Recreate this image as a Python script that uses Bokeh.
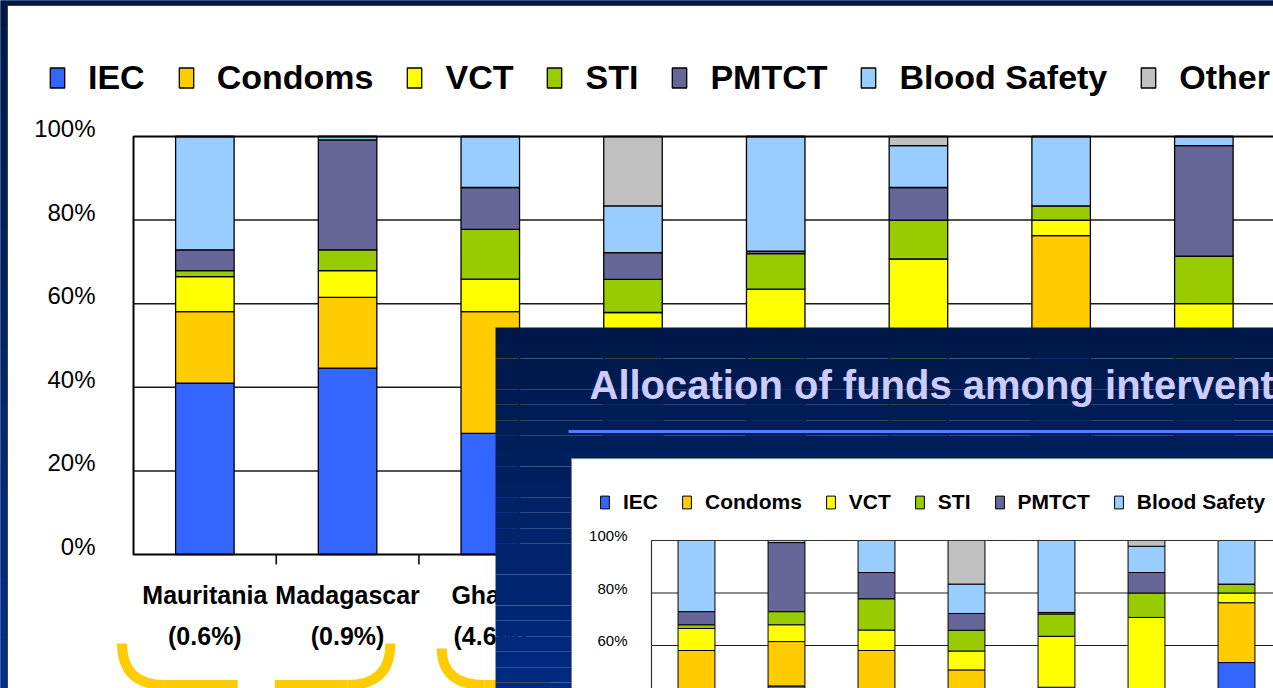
import numpy as np
from bokeh.plotting import figure
from bokeh.models import Range1d, Legend, LegendItem, ColumnDataSource
from bokeh.core.properties import value
from bokeh.embed import file_html
from bokeh.resources import INLINE

# ---------------- data ----------------
series = ["IEC", "Condoms", "VCT", "STI", "PMTCT", "Blood Safety", "Other"]
colors = ["#3366FF", "#FFCC00", "#FFFF00", "#99CC00", "#666699", "#99CCFF", "#C0C0C0"]
iec = [41.0, 44.6, 29.0, 40.0, 40.1, 25.0, 53.5, 40.0]
condoms = [17.1, 16.9, 29.1, 10.7, 4.0, 10.0, 22.8, 12.0]
vct = [8.4, 6.4, 7.8, 7.2, 19.4, 35.7, 3.7, 8.0]
sti = [1.4, 5.0, 11.9, 7.9, 8.5, 9.3, 3.4, 11.4]
pmtct = [5.0, 26.3, 10.0, 6.4, 0.6, 7.8, 0.0, 26.4]
blood = [27.1, 0.8, 12.2, 11.2, 27.4, 10.0, 16.6, 2.2]
other = [0.0, 0.0, 0.0, 16.6, 0.0, 2.2, 0.0, 0.0]
countries = ["Mauritania", "Madagascar", "Ghana"]
prevalence = ["(0.6%)", "(0.9%)", "(4.6%)"]
y_ticks = [0, 0.2, 0.4, 0.6, 0.8, 1.0]
inset_title = "Allocation of funds among interventions"

FONT = value("Liberation Sans")
keys = ["iec", "condoms", "vct", "sti", "pmtct", "blood", "other"]
vals = [iec, condoms, vct, sti, pmtct, blood, other]
ncat = len(iec)
xs = [i + 0.5 for i in range(ncat)]
data = {"x": xs}
for k, v in zip(keys, vals):
    data[k] = [a / 100.0 for a in v]
src = ColumnDataSource(data)
tick_text = ["%d%%" % round(t * 100) for t in y_ticks]


def gradient(c0, c1, n):
    c0 = np.array(c0)
    c1 = np.array(c1)
    out = []
    for i in range(n):
        t = (i + 0.5) / n
        c = (c0 + (c1 - c0) * t).astype(int)
        out.append("#%02x%02x%02x" % tuple(c))
    return out


# ---------------- figure (frame = whole canvas) ----------------
p = figure(width=1273, height=688, output_backend="svg", toolbar_location=None,
           x_range=Range1d(-0.9320, 7.988), y_range=Range1d(-0.3206, 1.3254),
           x_axis_location=None, y_axis_location=None, min_border=0,
           background_fill_color="#001f5c", border_fill_color="#001f5c",
           outline_line_color=None)
p.extra_x_ranges = {"inset": Range1d(-7.2333, 6.9111)}
p.extra_y_ranges = {"inset": Range1d(0.4362, 3.0571)}
p.xgrid.visible = False
p.ygrid.visible = False

# slide background (navy gradient) and white chart panel
nb = 24
bg_edges = np.linspace(1.33, -0.33, nb + 1)
p.quad(left=-0.94, right=8.2, top=bg_edges[:-1], bottom=bg_edges[1:],
       fill_color=gradient([0x00, 0x18, 0x48], [0x00, 0x31, 0x8e], nb), line_color=None)
p.quad(left=-0.883, right=8.5, top=1.3134, bottom=-0.5, fill_color="white",
       line_color="#404040", line_width=1)

# ---------------- main chart ----------------
grid_y = [t for t in y_ticks if 0 < t < 1]
p.segment(x0=0, x1=ncat, y0=grid_y, y1=grid_y, line_color="#1a1a1a", line_width=1.5)
main_r = p.vbar_stack(keys, x="x", width=0.41, source=src, fill_color=colors,
                      line_color="black", line_width=1.3)
p.quad(left=0, right=ncat, bottom=0, top=1, fill_color=None, line_color="black",
       line_width=2)
bounds = list(range(1, ncat))
p.segment(x0=bounds, x1=bounds, y0=0, y1=-0.024, line_color="black", line_width=1.5)

# y tick labels
p.text(x=-0.266, y=[t + 0.019 for t in y_ticks], text=tick_text, text_font=FONT,
       text_font_size="24px", text_align="right", text_baseline="middle",
       text_color="black")

p.text(x=xs[:len(countries)], y=-0.096, text=countries, text_font=FONT,
       text_font_style="bold", text_font_size="25px", text_align="center",
       text_baseline="middle", text_color="black")
p.text(x=xs[:len(prevalence)], y=-0.196, text=prevalence, text_font=FONT,
       text_font_style="bold", text_font_size="25px", text_align="center",
       text_baseline="middle", text_color="black")

# yellow brackets grouping countries
br_left = [-0.08, 2.16]
br_right = [1.80, 3.95]
br_top = [-0.213, -0.225]
br_bot = -0.312
for L, R, T in zip(br_left, br_right, br_top):
    M = (L + R) / 2
    p.quadratic(x0=L, y0=T, x1=L + 0.3, y1=br_bot, cx=L, cy=br_bot,
                line_color="#FFCC00", line_width=10)
    p.quadratic(x0=R - 0.3, y0=br_bot, x1=R, y1=T, cx=R, cy=br_bot,
                line_color="#FFCC00", line_width=10)
    p.segment(x0=[L + 0.3, M + 0.13], x1=[M - 0.13, R - 0.3], y0=br_bot, y1=br_bot,
              line_color="#FFCC00", line_width=10)

# ---------------- inset slide ----------------
ik = dict(x_range_name="inset", y_range_name="inset")
slide_left, slide_top, slide_bottom = -1.733, 1.811, 0.40
edges = np.linspace(slide_top, slide_bottom, nb + 1)
p.quad(left=slide_left, right=9.5, top=edges[:-1], bottom=edges[1:],
       fill_color=gradient([0x00, 0x18, 0x48], [0x00, 0x2c, 0x84], nb),
       line_color=None, **ik)

p.text(x=-0.689, y=1.594, text=[inset_title], text_font=FONT, text_font_style="bold",
       text_font_size="40px", text_color="#CCCCFF", text_align="left",
       text_baseline="middle", **ik)
p.segment(x0=-0.922, x1=9.5, y0=1.415, y1=1.415, line_color="#4d80ff",
          line_width=3, **ik)
p.quad(left=-0.889, right=9.5, top=1.312, bottom=0.3, fill_color="white",
       line_color="#808080", line_width=1, **ik)

p.segment(x0=0, x1=ncat, y0=grid_y, y1=grid_y, line_color="#1a1a1a", line_width=1, **ik)
inset_r = p.vbar_stack(keys, x="x", width=0.41, source=src, fill_color=colors,
                       line_color="black", line_width=1, **ik)
p.quad(left=0, right=ncat, bottom=0, top=1, fill_color=None, line_color="#333333",
       line_width=1.2, **ik)
vis = [i for i, t in enumerate(y_ticks) if t >= 0.6]
p.text(x=-0.267, y=[y_ticks[i] + 0.019 for i in vis], text=[tick_text[i] for i in vis],
       text_font=FONT, text_font_size="15px", text_align="right",
       text_baseline="middle", text_color="black", **ik)

# ---------------- legends ----------------
leg_main = Legend(items=[LegendItem(label=s, renderers=[r]) for s, r in zip(series, main_r)],
                  orientation="horizontal", location=(48, 591), glyph_width=18,
                  glyph_height=25, label_standoff=22, spacing=32, padding=0, margin=0,
                  border_line_color=None, background_fill_alpha=0,
                  label_text_font="Liberation Sans", label_text_font_size="34px",
                  label_text_font_style="bold", label_text_color="black")
p.add_layout(leg_main)

leg_inset = Legend(items=[LegendItem(label=s, renderers=[r]) for s, r in zip(series[:6], inset_r[:6])],
                   orientation="horizontal", location=(599, 174), glyph_width=11,
                   glyph_height=16, label_standoff=13, spacing=23, padding=0, margin=0,
                   border_line_color=None, background_fill_alpha=0,
                   label_text_font="Liberation Sans", label_text_font_size="21px",
                   label_text_font_style="bold", label_text_color="black")
p.add_layout(leg_inset)

html = file_html(p, INLINE, title="Allocation of funds among interventions")
open("out.html", "w").write(html)
